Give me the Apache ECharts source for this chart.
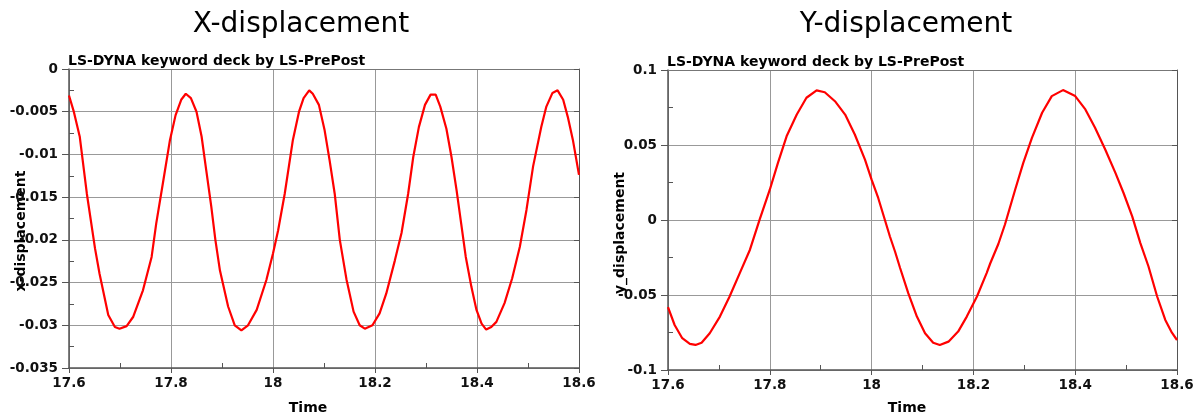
<!DOCTYPE html>
<html>
<head>
<meta charset="utf-8">
<title>X / Y displacement</title>
<script src="https://cdn.jsdelivr.net/npm/echarts@6.0.0/dist/echarts.min.js"></script>
<style>
  html, body { margin: 0; padding: 0; background: #fff; }
  #chart { width: 1202px; height: 420px; }
</style>
</head>
<body>
<div id="chart"></div>
<script>
// x-displacement history
var timeX = [17.600, 17.609, 17.621, 17.635, 17.651, 17.660, 17.677, 17.690, 17.699, 17.713,
  17.726, 17.745, 17.762, 17.771, 17.784, 17.798, 17.809, 17.820, 17.829, 17.839,
  17.850, 17.860, 17.869, 17.879, 17.887, 17.896, 17.912, 17.925, 17.938, 17.951,
  17.968, 17.987, 18.000, 18.010, 18.023, 18.039, 18.051, 18.060, 18.071, 18.078,
  18.090, 18.101, 18.111, 18.121, 18.131, 18.144, 18.158, 18.170, 18.180, 18.195,
  18.209, 18.222, 18.239, 18.252, 18.265, 18.275, 18.286, 18.298, 18.309, 18.319,
  18.328, 18.340, 18.350, 18.360, 18.369, 18.378, 18.389, 18.399, 18.409, 18.418,
  18.428, 18.438, 18.454, 18.469, 18.484, 18.497, 18.510, 18.526, 18.536, 18.548,
  18.558, 18.569, 18.578, 18.588, 18.600];
var dispX = [-0.0031, -0.0049, -0.0079, -0.0146, -0.0210, -0.0240, -0.0288, -0.0302, -0.0304, -0.0301,
  -0.0290, -0.0259, -0.0220, -0.0181, -0.0134, -0.0083, -0.0054, -0.0036, -0.0029, -0.0034,
  -0.0050, -0.0079, -0.0118, -0.0161, -0.0200, -0.0236, -0.0278, -0.0300, -0.0306, -0.0300,
  -0.0282, -0.0247, -0.0216, -0.0189, -0.0146, -0.0083, -0.0050, -0.0034, -0.0025, -0.0029,
  -0.0042, -0.0071, -0.0107, -0.0146, -0.0200, -0.0246, -0.0284, -0.0300, -0.0304, -0.0300,
  -0.0286, -0.0263, -0.0224, -0.0192, -0.0146, -0.0103, -0.0068, -0.0042, -0.0030, -0.0030,
  -0.0044, -0.0070, -0.0103, -0.0142, -0.0181, -0.0220, -0.0255, -0.0282, -0.0298, -0.0305,
  -0.0302, -0.0296, -0.0274, -0.0245, -0.0208, -0.0165, -0.0114, -0.0068, -0.0044, -0.0028,
  -0.0025, -0.0036, -0.0056, -0.0083, -0.0124];

// y-displacement history
var timeY = [17.600, 17.613, 17.628, 17.643, 17.654, 17.666, 17.682, 17.702, 17.721, 17.741,
  17.761, 17.780, 17.800, 17.816, 17.833, 17.853, 17.872, 17.892, 17.908, 17.928,
  17.948, 17.967, 17.987, 18.000, 18.013, 18.026, 18.036, 18.046, 18.056, 18.072,
  18.089, 18.105, 18.121, 18.134, 18.151, 18.170, 18.187, 18.207, 18.226, 18.233,
  18.249, 18.262, 18.282, 18.298, 18.315, 18.335, 18.354, 18.376, 18.400, 18.420,
  18.439, 18.459, 18.479, 18.495, 18.512, 18.528, 18.544, 18.561, 18.577, 18.590, 18.600];
var dispY = [-0.0581, -0.0700, -0.0788, -0.0826, -0.0833, -0.0818, -0.0755, -0.0644, -0.0510, -0.0354,
  -0.0198, 0.0002, 0.0202, 0.0381, 0.0558, 0.0703, 0.0815, 0.0864, 0.0852, 0.0792,
  0.0703, 0.0570, 0.0403, 0.0269, 0.0147, 0.0002, -0.0110, -0.0210, -0.0320, -0.0488,
  -0.0644, -0.0755, -0.0818, -0.0833, -0.0811, -0.0744, -0.0644, -0.0510, -0.0354, -0.0290,
  -0.0160, -0.0030, 0.0202, 0.0381, 0.0548, 0.0715, 0.0826, 0.0866, 0.0826, 0.0737,
  0.0615, 0.0470, 0.0314, 0.0180, 0.0024, -0.0154, -0.0310, -0.0510, -0.0666, -0.0751, -0.0800];

var timeRange = [17.6, 18.6];
var xRange = [-0.035, 0];
var yRange = [-0.1, 0.1];

var FONT = '"DejaVu Sans", Verdana, sans-serif';
var AXIS_COLOR = '#555';
var GRID_COLOR = '#999';

function fmt(v) {
  return String(+v.toFixed(4));
}

function pairs(xs, ys) {
  return xs.map(function (x, i) { return [x, ys[i]]; });
}

function xAxes(g) {
  return [
    {
      type: 'value', gridIndex: g, position: 'bottom',
      min: timeRange[0], max: timeRange[1], interval: 0.2,
      axisLine: { show: true, onZero: false, lineStyle: { color: AXIS_COLOR, width: 1.5 } },
      axisTick: { show: true, length: 5, lineStyle: { color: AXIS_COLOR } },
      splitLine: { show: true, lineStyle: { color: GRID_COLOR, width: 1 } },
      axisLabel: { color: '#111', fontFamily: FONT, fontWeight: 'bold', fontSize: 13.5, margin: 8, formatter: fmt }
    },
    {
      // inward minor ticks
      type: 'value', gridIndex: g, position: 'bottom',
      min: timeRange[0], max: timeRange[1], interval: 0.2,
      axisLine: { show: false, onZero: false },
      axisTick: { show: false, inside: true },
      minorTick: { show: true, splitNumber: 2, length: 5, lineStyle: { color: AXIS_COLOR } },
      splitLine: { show: false },
      axisLabel: { show: false }
    },
    {
      type: 'value', gridIndex: g, position: 'top',
      min: timeRange[0], max: timeRange[1], interval: 0.2,
      axisLine: { show: true, onZero: false, lineStyle: { color: '#777', width: 1 } },
      axisTick: { show: false },
      splitLine: { show: false },
      axisLabel: { show: false }
    }
  ];
}

function yAxes(g, range, step) {
  return [
    {
      type: 'value', gridIndex: g, position: 'left',
      min: range[0], max: range[1], interval: step,
      axisLine: { show: true, onZero: false, lineStyle: { color: AXIS_COLOR, width: 1.5 } },
      axisTick: { show: true, length: 7, lineStyle: { color: AXIS_COLOR } },
      splitLine: { show: true, lineStyle: { color: GRID_COLOR, width: 1 } },
      axisLabel: { color: '#111', fontFamily: FONT, fontWeight: 'bold', fontSize: 13.5, margin: 11, formatter: fmt }
    },
    {
      type: 'value', gridIndex: g, position: 'left',
      min: range[0], max: range[1], interval: step,
      axisLine: { show: false, onZero: false },
      axisTick: { show: false, inside: true },
      minorTick: { show: true, splitNumber: 2, length: 5, lineStyle: { color: AXIS_COLOR } },
      splitLine: { show: false },
      axisLabel: { show: false }
    },
    {
      type: 'value', gridIndex: g, position: 'right',
      min: range[0], max: range[1], interval: step,
      axisLine: { show: true, onZero: false, lineStyle: { color: AXIS_COLOR, width: 1 } },
      axisTick: { show: true, inside: true, length: 5, lineStyle: { color: AXIS_COLOR } },
      splitLine: { show: false },
      axisLabel: { show: false }
    }
  ];
}

function label(text, x, y, size, weight, align, rot) {
  return {
    type: 'text', x: x, y: y, rotation: rot || 0, silent: true,
    style: {
      text: text, fill: '#000', fontFamily: FONT, fontSize: size, fontWeight: weight,
      align: align || 'center', verticalAlign: 'middle'
    }
  };
}

var chart = echarts.init(document.getElementById('chart'));
chart.setOption({
  animation: false,
  grid: [
    { left: 69, top: 69, width: 510, height: 299, outerBoundsMode: 'none' },
    { left: 668, top: 70, width: 509, height: 300, outerBoundsMode: 'none' }
  ],
  xAxis: xAxes(0).concat(xAxes(1)),
  yAxis: yAxes(0, xRange, 0.005).concat(yAxes(1, yRange, 0.05)),
  graphic: [
    label('X-displacement', 301, 25, 28, 'normal'),
    label('Y-displacement', 906, 25, 28, 'normal'),
    label('LS-DYNA keyword deck by LS-PrePost', 68, 61, 14, 'bold', 'left'),
    label('LS-DYNA keyword deck by LS-PrePost', 667, 62, 14, 'bold', 'left'),
    label('Time', 308, 408, 14, 'bold'),
    label('Time', 907, 408, 14, 'bold'),
    label('x-displacement', 21, 231, 14, 'bold', 'center', Math.PI / 2),
    label('y_displacement', 620, 233, 14, 'bold', 'center', Math.PI / 2)
  ],
  series: [
    {
      name: 'x-displacement', type: 'line', xAxisIndex: 0, yAxisIndex: 0,
      data: pairs(timeX, dispX), showSymbol: false,
      lineStyle: { color: '#ff0000', width: 2.2 }, itemStyle: { color: '#ff0000' }
    },
    {
      name: 'y_displacement', type: 'line', xAxisIndex: 3, yAxisIndex: 3,
      data: pairs(timeY, dispY), showSymbol: false,
      lineStyle: { color: '#ff0000', width: 2.2 }, itemStyle: { color: '#ff0000' }
    }
  ]
});
</script>
</body>
</html>
